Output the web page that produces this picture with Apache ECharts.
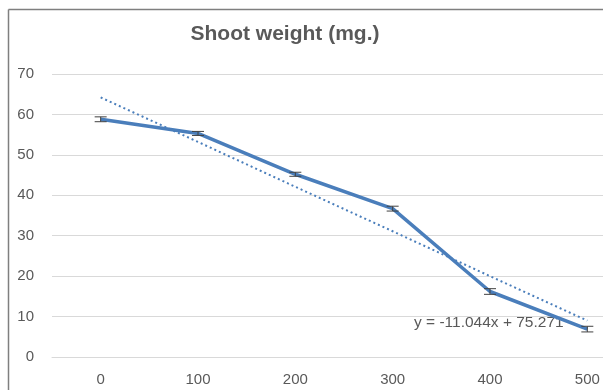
<!DOCTYPE html>
<html>
<head>
<meta charset="utf-8">
<script src="https://cdn.jsdelivr.net/npm/echarts@6/dist/echarts.min.js"></script>
<style>
  html, body { margin: 0; padding: 0; background: #fff; }
  #chart { width: 603px; height: 390px; }
</style>
</head>
<body>
<div id="chart"></div>
<script>
const categories = ['0', '100', '200', '300', '400', '500'];
const weights = [58.8, 55.3, 45.2, 36.7, 16.2, 6.9];
const errors = [0.6, 0.5, 0.5, 0.6, 0.7, 0.7];
// trendline read from the printed equation y = -11.044x + 75.271
const trend = [64.2, 53.2, 42.1, 31.1, 20.0, 9.0];
const yTicks = { min: 0, max: 70, step: 10 };

const chart = echarts.init(document.getElementById('chart'));
const blue = '#4a7ebb';
const grey = '#595959';

const option = {
  animation: false,
  title: {
    text: 'Shoot weight (mg.)',
    left: 280, top: 19, textAlign: 'center',
    textStyle: { fontFamily: 'Liberation Sans', fontSize: 21, fontWeight: 'bold', color: grey }
  },
  graphic: [
    { type: 'line', shape: { x1: 8.5, y1: 9.5, x2: 8.5, y2: 390 }, style: { stroke: '#7f7f7f', lineWidth: 1.5 } },
    { type: 'line', shape: { x1: 8.5, y1: 9.5, x2: 603, y2: 9.5 }, style: { stroke: '#7f7f7f', lineWidth: 1.5 } },
    { type: 'text', left: 414, top: 315,
      style: { text: 'y = -11.044x + 75.271', fill: grey, font: '15.5px "Liberation Sans"' } }
  ],
  grid: { left: 52, top: 74, width: 584, height: 283, outerBoundsMode: 'none', containLabel: false },
  xAxis: {
    type: 'category',
    data: categories,
    boundaryGap: true,
    axisLine: { lineStyle: { color: '#d9d9d9' } },
    axisTick: { show: false },
    axisLabel: { color: grey, fontSize: 15, margin: 15, fontFamily: 'Liberation Sans' }
  },
  yAxis: {
    type: 'value',
    min: yTicks.min, max: yTicks.max, interval: yTicks.step,
    axisLine: { show: false },
    axisTick: { show: false },
    axisLabel: { color: grey, fontSize: 15, margin: 18, fontFamily: 'Liberation Sans' },
    splitLine: { lineStyle: { color: '#d9d9d9' } }
  },
  series: [
    {
      name: 'trend', type: 'line', data: trend, symbol: 'none',
      lineStyle: { color: blue, width: 2, type: [2, 3] }, z: 2
    },
    {
      name: 'Shoot weight', type: 'line', data: weights, symbol: 'none',
      lineStyle: { color: blue, width: 3.5 }, z: 3
    },
    {
      name: 'error', type: 'custom', z: 4,
      data: weights.map((v, i) => [i, v - errors[i], v + errors[i]]),
      renderItem: function (params, api) {
        const lo = api.coord([api.value(0), api.value(1)]);
        const hi = api.coord([api.value(0), api.value(2)]);
        const w = 6;
        const s = { stroke: '#404040', lineWidth: 1 };
        return {
          type: 'group',
          children: [
            { type: 'line', shape: { x1: lo[0], y1: lo[1], x2: hi[0], y2: hi[1] }, style: s },
            { type: 'line', shape: { x1: lo[0] - w, y1: lo[1], x2: lo[0] + w, y2: lo[1] }, style: s },
            { type: 'line', shape: { x1: hi[0] - w, y1: hi[1], x2: hi[0] + w, y2: hi[1] }, style: s }
          ]
        };
      }
    }
  ]
};
chart.setOption(option);
</script>
</body>
</html>
